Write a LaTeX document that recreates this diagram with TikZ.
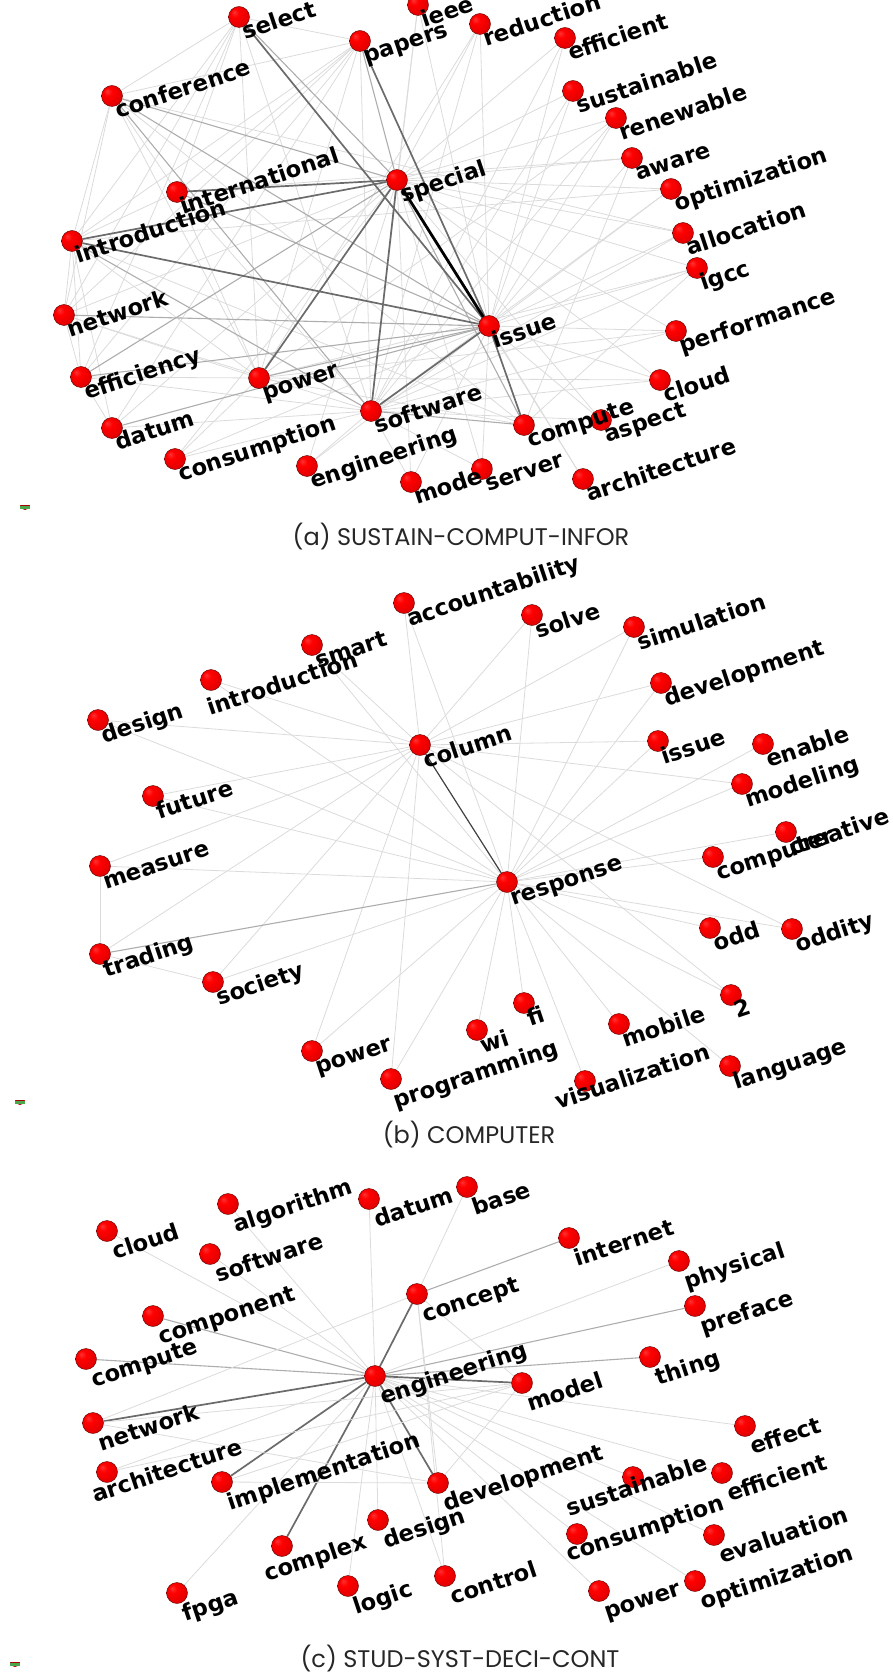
\documentclass[tikz,border=0pt]{standalone}
\usepackage{fontspec}
\usepackage{tikz}
\usetikzlibrary{calc}
\newfontfamily\lblfont{DejaVu Sans}
\newfontfamily\capfont{Poppins}
\pgfdeclarelayer{edges}
\pgfsetlayers{edges,main}
\pgfdeclareradialshading{redball}{\pgfpoint{-12bp}{12bp}}{color(0bp)=(red!80!white); color(10bp)=(red); color(30bp)=(red!88!black); color(44bp)=(red!60!black); color(50bp)=(red!45!black)}

\begin{document}
\begin{tikzpicture}[x=0.5pt, y=-0.5pt,
    ball/.style={circle, inner sep=0pt, minimum size=10.5pt, shading=redball, draw=red!35!black, line width=0.2pt},
    lbl/.style={anchor=base west, inner sep=0pt, rotate=18.5, font=\lblfont\bfseries\fontsize{11.3pt}{11.3pt}\selectfont},
    caption/.style={font=\capfont\fontsize{12pt}{12pt}\selectfont, text=black!85},
    e1/.style={draw=black!14, line width=0.4pt},
    e2/.style={draw=black!32, line width=0.55pt},
    e3/.style={draw=black!58, line width=0.85pt},
    e4/.style={draw=black, line width=1.4pt}]

\useasboundingbox (0,0) rectangle (893,1674);

% (a) SUSTAIN-COMPUT-INFOR
\foreach \n/\x/\y in {select/239/17, papers/360/41, ieee/418/5, reduction/480/24,
    efficient/565/38, conference/112/96, sustainable/573/91, renewable/616/118,
    aware/632/158, special/397/180, international/177/192, optimization/671/189,
    allocation/683/233, introduction/72/241, igcc/697/268, network/64/315,
    issue/489/326, performance/676/331, efficiency/81/377, power/259/378,
    cloud/660/380, software/371/411, aspect/601/420, compute/524/425,
    datum/112/428, consumption/175/459, engineering/307/466, server/482/469,
    architecture/583/479, mode/411/482}
{
  \node[ball] (a-\n) at (\x,\y) {};
  \node[lbl] (a-\n-l) at ([shift={(6,23)}]a-\n.center) {\n};
}

\begin{pgfonlayer}{edges}
\foreach \u/\v in {select/conference, select/papers, select/introduction, select/international,
    select/software, select/power, select/network, select/efficiency,
    papers/conference, papers/introduction, papers/international, papers/software,
    papers/power, papers/efficiency, papers/network, papers/datum,
    ieee/special, ieee/issue, ieee/software, reduction/special, reduction/issue,
    reduction/software, reduction/power, efficient/issue, efficient/special, efficient/software,
    sustainable/special, sustainable/issue, sustainable/software, renewable/special,
    renewable/software, renewable/issue, aware/special, aware/issue, aware/compute,
    optimization/special, optimization/issue, optimization/software, allocation/special,
    allocation/issue, allocation/software, igcc/issue, igcc/special, igcc/software,
    igcc/compute, performance/issue, performance/special, performance/software,
    cloud/issue, cloud/software, cloud/special, aspect/issue, aspect/special,
    aspect/software, architecture/issue, architecture/special, server/issue,
    server/special, server/software, mode/software, mode/issue, mode/special,
    engineering/software, engineering/issue, engineering/special, consumption/software,
    consumption/special, consumption/issue, consumption/power, datum/software,
    datum/special, datum/introduction, datum/efficiency, efficiency/introduction,
    efficiency/network, efficiency/power, efficiency/software, network/introduction,
    network/special, network/software, network/conference, network/power,
    introduction/conference, introduction/international, introduction/power,
    introduction/compute, international/conference, international/software,
    international/power, conference/power, conference/compute, compute/power,
    optimization/introduction, aware/international, renewable/power, igcc/power,
    performance/power, cloud/power, allocation/conference}
  \draw[e1] (a-\u) -- (a-\v);
\foreach \u/\v in {conference/special, conference/issue, select/special, papers/special,
    international/issue, introduction/software, conference/software, efficiency/special,
    efficiency/issue, power/issue, network/issue, datum/issue, compute/special,
    compute/software}
  \draw[e2] (a-\u) -- (a-\v);
\foreach \u/\v in {special/software, issue/software, introduction/special, introduction/issue,
    international/special, power/special, select/issue, papers/issue, issue/compute}
  \draw[e3] (a-\u) -- (a-\v);
\draw[e4] (a-special) -- (a-issue);
\end{pgfonlayer}

\node[caption] (cap-a) at (461,537) {(a) SUSTAIN-COMPUT-INFOR};

% (b) COMPUTER
\foreach \n/\x/\y in {accountability/404/603, solve/532/615, simulation/634/627,
    smart/312/645, development/661/683, design/98/720,
    column/420/745, issue/658/741, enable/763/744, modeling/742/784, future/153/796,
    creative/786/832, computer/713/857, measure/100/866, response/507/882,
    odd/710/928, oddity/792/929, trading/100/954, society/213/982, 2/731/995,
    fi/524/1003, mobile/619/1024, wi/477/1030, power/312/1051, language/730/1066}
{
  \node[ball] (b-\n) at (\x,\y) {};
  \node[lbl] (b-\n-l) at ([shift={(6,24)}]b-\n.center) {\n};
}
\foreach \n/\x/\y/\dx/\dy in {introduction/211/680/-1/36, programming/391/1079/5/30,
    visualization/585/1081/-27/29}
{
  \node[ball] (b-\n) at (\x,\y) {};
  \node[lbl] (b-\n-l) at ([shift={(\dx,\dy)}]b-\n.center) {\n};
}

\begin{pgfonlayer}{edges}
\foreach \v in {accountability, solve, simulation, development, issue, enable, modeling,
    creative, computer, odd, oddity, 2, language, visualization, mobile, fi, wi,
    programming, power, society, measure, future, design, introduction, smart}
  \draw[e1] (b-response) -- (b-\v);
\foreach \v in {accountability, smart, introduction, design, future, measure, trading,
    society, power, programming, simulation, development, issue, modeling, oddity, 2, solve}
  \draw[e1] (b-column) -- (b-\v);
\draw[e1] (b-trading) -- (b-measure);
\draw[e1] (b-trading) -- (b-society);
\draw[e2] (b-trading) -- (b-response);
\draw[draw=black!75, line width=0.6pt] (b-column) -- (b-response);
\end{pgfonlayer}

\node[caption] (cap-b) at (469,1135) {(b) COMPUTER};

% (c) STUD-SYST-DECI-CONT
\foreach \n/\x/\y in {base/467/1187, datum/369/1199, algorithm/228/1204, cloud/107/1231,
    internet/569/1238, software/210/1254, physical/679/1261, concept/417/1294,
    preface/695/1306, component/153/1316, thing/650/1357, compute/86/1359,
    engineering/375/1376, model/522/1383, network/93/1423, effect/745/1426,
    efficient/722/1473, implementation/222/1482, development/438/1483,
    design/378/1520, evaluation/714/1535, control/445/1576,
    logic/348/1586, fpga/177/1593, power/599/1591, optimization/695/1581}
{
  \node[ball] (c-\n) at (\x,\y) {};
  \node[lbl] (c-\n-l) at ([shift={(8,29)}]c-\n.center) {\n};
}
\foreach \n/\x/\y/\dx/\dy in {complex/282/1546/-15/36, architecture/107/1472/-12/31,
    sustainable/633/1477/-64/40, consumption/577/1534/-8/28}
{
  \node[ball] (c-\n) at (\x,\y) {};
  \node[lbl] (c-\n-l) at ([shift={(\dx,\dy)}]c-\n.center) {\n};
}

\begin{pgfonlayer}{edges}
\foreach \v in {datum, algorithm, cloud, software, physical, effect,
    architecture, sustainable, efficient, design, consumption, evaluation, logic,
    fpga, power, optimization, control}
  \draw[e1] (c-engineering) -- (c-\v);
\foreach \v in {thing, compute, component, preface}
  \draw[e2] (c-engineering) -- (c-\v);
\foreach \v in {concept, network, implementation, development, model, complex}
  \draw[e3] (c-engineering) -- (c-\v);
\foreach \u/\v in {concept/network, concept/development, concept/model, concept/control,
    base/concept, network/development, network/model, architecture/model,
    implementation/development, implementation/model, development/model}
  \draw[e1] (c-\u) -- (c-\v);
\draw[e2] (c-concept) -- (c-internet);
\end{pgfonlayer}

\node[caption] (cap-c) at (460,1659) {(c) STUD-SYST-DECI-CONT};

% small marks at the left
\foreach \p/\px/\py in {pa/25/505, pb/20/1100, pc/15/1662}
{
  \coordinate (\p) at (\px,\py);
  \fill[red!65!black] ([shift={(-5,0)}]\p) arc (180:0:5) -- cycle;
  \fill[green!50!black!70] ([shift={(-5,1)}]\p) rectangle ([shift={(5,4)}]\p);
}
\end{tikzpicture}
\end{document}
